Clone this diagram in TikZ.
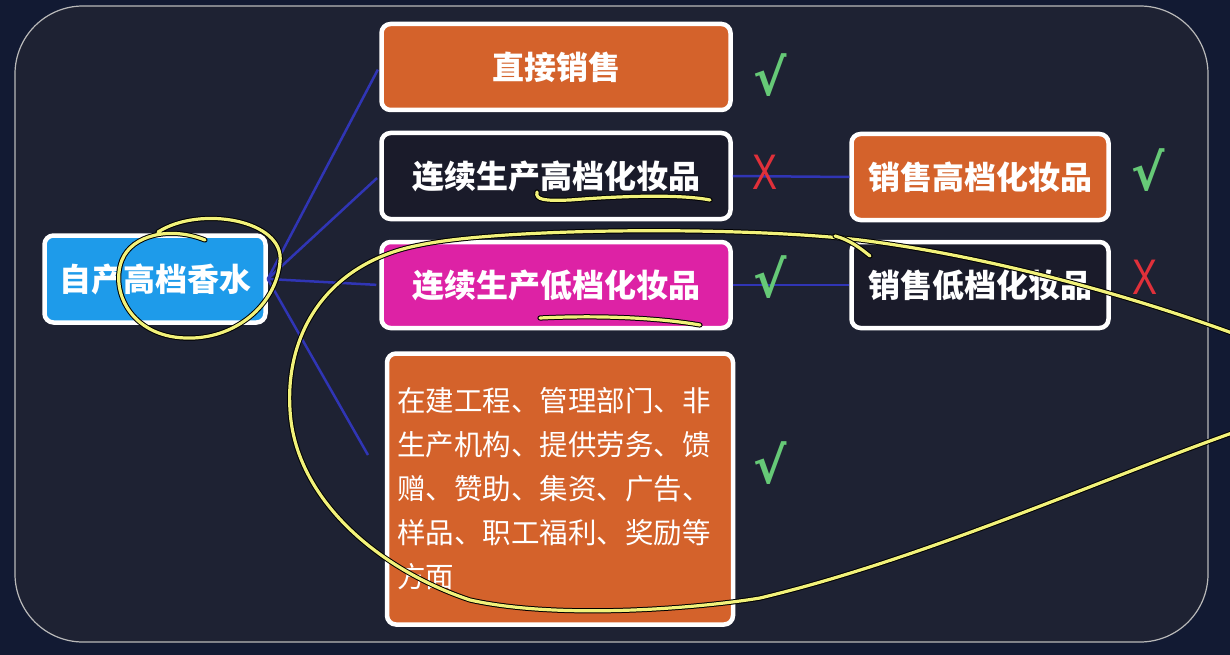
\documentclass[tikz,border=0pt]{standalone}
\usepackage{fontspec}
\newfontfamily\cjk{Noto Sans CJK SC}
\newfontfamily\marksfont{DejaVu Sans}
\newfontfamily\crossfont{Liberation Sans}
\usetikzlibrary{positioning}
\definecolor{pageCol}{HTML}{121A33}
\definecolor{panelCol}{HTML}{1E2233}
\definecolor{orangeCol}{HTML}{D4622B}
\definecolor{pinkCol}{HTML}{DD22A5}
\definecolor{rootCol}{HTML}{1E9BEA}
\definecolor{darkCol}{HTML}{1A1B2A}
\definecolor{linkCol}{HTML}{3035B5}
\definecolor{okCol}{HTML}{66C977}
\definecolor{noCol}{HTML}{E0303A}
\definecolor{penCol}{HTML}{F2F27A}

\begin{document}
\begin{tikzpicture}[x=1pt,y=-1pt,
  font=\cjk\bfseries\fontsize{32}{38}\selectfont,
  box/.style={draw=white,fill=#1,line width=4.5pt,rounded corners=9pt,
    minimum width=349pt,minimum height=86pt,text=white,inner sep=0pt},
  link/.style={draw=linkCol,line width=2.5pt},
  ok/.style={text=okCol,font=\marksfont\bfseries\fontsize{50}{50}\selectfont},
  no/.style={text=noCol,font=\crossfont\fontsize{50}{50}\selectfont,xscale=0.75},
  pen/.style={draw=penCol,line width=3.2pt,line cap=round,
    preaction={draw=black,line width=5.2pt,line cap=round}},
]
\useasboundingbox (0,0) rectangle (1230,655);
\fill[pageCol] (0,0) rectangle (1230,655);
\draw[fill=panelCol,draw=gray!55,line width=1.2pt,rounded corners=68pt] (15,6) rectangle (1208,642);

% boxes
\node[box=rootCol,minimum width=221pt,minimum height=87pt] (root) at (155,279) {自产高档香水};
\node[box=orangeCol] (direct) at (556,67) {直接销售};
\node[box=darkCol] (makeHigh) at (556,176) {连续生产高档化妆品};
\node[box=pinkCol] (makeLow) at (556,285) {连续生产低档化妆品};
\node[box=orangeCol,minimum width=346pt,minimum height=271pt,text width=326pt,
  font=\cjk\mdseries\fontsize{28.5}{44}\selectfont,align=left] (other) at (560,489)
  {在建工程、管理部门、非\\生产机构、提供劳务、馈\\赠、赞助、集资、广告、\\样品、职工福利、奖励等\\方面};
\node[box=orangeCol,minimum width=257pt] (sellHigh) at (980,177) {销售高档化妆品};
\node[box=darkCol,minimum width=257pt] (sellLow) at (980,285) {销售低档化妆品};

% links
\coordinate (otherIn) at (368,455);
\draw[link,shorten >=3pt] (root.east) -- (direct.west);
\draw[link,shorten >=3pt] (root.east) -- (makeHigh.west);
\draw[link,shorten >=3pt] (root.east) -- (makeLow.west);
\draw[link] (root.east) -- (otherIn);
\draw[link] (makeHigh.east) -- (sellHigh.west);
\draw[link] (makeLow.east) -- (sellLow.west);

% marks
\node[ok] (okDirect) at (770,75) {√};
\node[no] (noHigh) at (765,172) {X};
\node[ok] (okLow) at (770,277) {√};
\node[ok] (okOther) at (770,463) {√};
\node[ok] (okSell) at (1148,170) {√};
\node[no] (noSell) at (1145,277) {X};

% pen notes
\draw[pen] (158,232) .. controls (200,205) and (285,220) .. (280,262)
  .. controls (276,305) and (235,340) .. (185,338)
  .. controls (130,336) and (110,290) .. (122,260)
  .. controls (132,235) and (170,226) .. (205,240);
\draw[pen] (537,192) .. controls (535,200) and (545,201) .. (570,200)
  .. controls (620,196) and (680,194) .. (710,200);
\draw[pen] (540,318) .. controls (600,315) and (660,318) .. (700,325);
\draw[pen] (1232,333) .. controls (1120,292) and (980,255) .. (860,240)
  .. controls (740,226) and (500,228) .. (420,245)
  .. controls (330,262) and (285,330) .. (290,410)
  .. controls (295,500) and (380,570) .. (470,600)
  .. controls (560,620) and (700,608) .. (760,598)
  .. controls (920,560) and (1100,480) .. (1232,433);
\draw[pen] (835,236) .. controls (850,240) and (860,248) .. (870,256);
\end{tikzpicture}
\end{document}
